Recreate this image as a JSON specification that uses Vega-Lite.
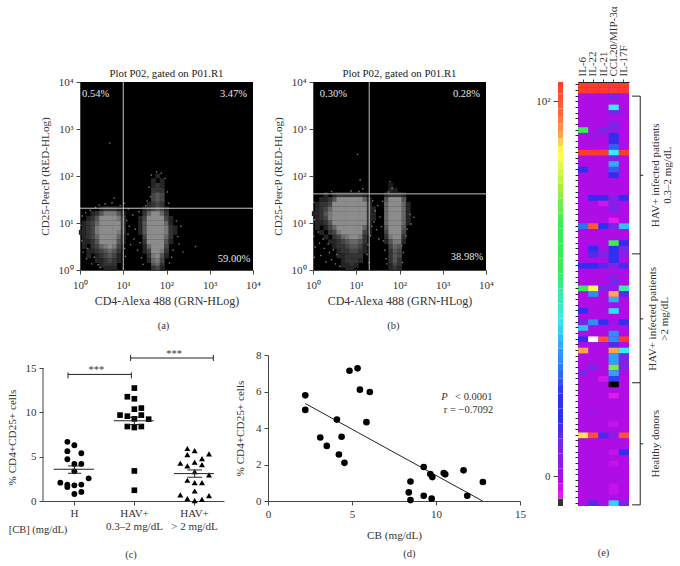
{
"$schema":"https://vega.github.io/schema/vega-lite/v6.json",
"padding":{"left":6,"top":6,"right":0,"bottom":0},
"background":"white",
"config":{"font":"Liberation Serif","view":{"stroke":null},"title":{"fontWeight":"normal","fontSize":10.8,"font":"Liberation Serif","color":"#222","offset":-3},
"axis":{"grid":false,"labelFont":"Liberation Serif","titleFont":"Liberation Serif","labelFontSize":11,"titleFontSize":11.2,"titleFontWeight":"normal","labelColor":"#333","titleColor":"#333","domainColor":"#444","tickColor":"#444","tickSize":4,"labelPadding":3,"labelOverlap":false},
"text":{"font":"Liberation Serif","fontSize":10.5,"color":"#333"}},
"datasets":{
"flowA":[
{"x":0.5,"y":1.3,"d":0.2},{"x":0.6,"y":1.3,"d":0.3},{"x":0.7,"y":1.3,"d":0.3},{"x":0.8,"y":1.3,"d":0.3},{"x":0.9,"y":1.3,"d":0.2},
{"x":0.3,"y":1.2,"d":0.2},{"x":0.4,"y":1.2,"d":0.3},{"x":0.5,"y":1.2,"d":0.5},{"x":0.6,"y":1.2,"d":0.7},{"x":0.7,"y":1.2,"d":0.7},{"x":0.8,"y":1.2,"d":0.7},{"x":0.9,"y":1.2,"d":0.5},{"x":1.0,"y":1.2,"d":0.2},
{"x":0.2,"y":1.1,"d":0.2},{"x":0.3,"y":1.1,"d":0.3},{"x":0.4,"y":1.1,"d":0.5},{"x":0.5,"y":1.1,"d":0.8},{"x":0.6,"y":1.1,"d":1},{"x":0.7,"y":1.1,"d":1},{"x":0.8,"y":1.1,"d":1},{"x":0.9,"y":1.1,"d":0.7},{"x":1.0,"y":1.1,"d":0.3},
{"x":0.1,"y":1.0,"d":0.2},{"x":0.2,"y":1.0,"d":0.3},{"x":0.3,"y":1.0,"d":0.4},{"x":0.4,"y":1.0,"d":0.6},{"x":0.5,"y":1.0,"d":1},{"x":0.6,"y":1.0,"d":1},{"x":0.7,"y":1.0,"d":1},{"x":0.8,"y":1.0,"d":1},{"x":0.9,"y":1.0,"d":0.8},{"x":1.0,"y":1.0,"d":0.3},
{"x":0.1,"y":0.9,"d":0.2},{"x":0.2,"y":0.9,"d":0.3},{"x":0.3,"y":0.9,"d":0.4},{"x":0.4,"y":0.9,"d":0.7},{"x":0.5,"y":0.9,"d":1},{"x":0.6,"y":0.9,"d":1},{"x":0.7,"y":0.9,"d":1},{"x":0.8,"y":0.9,"d":1},{"x":0.9,"y":0.9,"d":0.8},{"x":1.0,"y":0.9,"d":0.3},
{"x":0.03,"y":0.8,"d":0.2},{"x":0.1,"y":0.8,"d":0.2},{"x":0.2,"y":0.8,"d":0.3},{"x":0.3,"y":0.8,"d":0.4},{"x":0.4,"y":0.8,"d":0.7},{"x":0.5,"y":0.8,"d":1},{"x":0.6,"y":0.8,"d":1},{"x":0.7,"y":0.8,"d":1},{"x":0.8,"y":0.8,"d":1},{"x":0.9,"y":0.8,"d":0.7},{"x":1.0,"y":0.8,"d":0.3},
{"x":0.1,"y":0.7,"d":0.2},{"x":0.2,"y":0.7,"d":0.3},{"x":0.3,"y":0.7,"d":0.4},{"x":0.4,"y":0.7,"d":0.6},{"x":0.5,"y":0.7,"d":0.9},{"x":0.6,"y":0.7,"d":1},{"x":0.7,"y":0.7,"d":1},{"x":0.8,"y":0.7,"d":1},{"x":0.9,"y":0.7,"d":0.6},{"x":1.0,"y":0.7,"d":0.2},
{"x":0.1,"y":0.6,"d":0.2},{"x":0.2,"y":0.6,"d":0.2},{"x":0.3,"y":0.6,"d":0.3},{"x":0.4,"y":0.6,"d":0.5},{"x":0.5,"y":0.6,"d":0.8},{"x":0.6,"y":0.6,"d":0.9},{"x":0.7,"y":0.6,"d":1},{"x":0.8,"y":0.6,"d":0.9},{"x":0.9,"y":0.6,"d":0.5},{"x":1.0,"y":0.6,"d":0.2},
{"x":0.1,"y":0.5,"d":0.2},{"x":0.3,"y":0.5,"d":0.3},{"x":0.4,"y":0.5,"d":0.4},{"x":0.5,"y":0.5,"d":0.6},{"x":0.6,"y":0.5,"d":0.7},{"x":0.7,"y":0.5,"d":0.8},{"x":0.8,"y":0.5,"d":0.7},{"x":0.9,"y":0.5,"d":0.4},
{"x":0.2,"y":0.4,"d":0.2},{"x":0.3,"y":0.4,"d":0.2},{"x":0.4,"y":0.4,"d":0.3},{"x":0.5,"y":0.4,"d":0.4},{"x":0.6,"y":0.4,"d":0.5},{"x":0.7,"y":0.4,"d":0.6},{"x":0.8,"y":0.4,"d":0.5},{"x":0.9,"y":0.4,"d":0.3},
{"x":0.2,"y":0.3,"d":0.2},{"x":0.4,"y":0.3,"d":0.2},{"x":0.5,"y":0.3,"d":0.3},{"x":0.6,"y":0.3,"d":0.4},{"x":0.7,"y":0.3,"d":0.5},{"x":0.8,"y":0.3,"d":0.4},{"x":0.9,"y":0.3,"d":0.2},
{"x":0.4,"y":0.2,"d":0.2},{"x":0.5,"y":0.2,"d":0.2},{"x":0.6,"y":0.2,"d":0.3},{"x":0.7,"y":0.2,"d":0.4},{"x":0.8,"y":0.2,"d":0.3},{"x":0.9,"y":0.2,"d":0.2},
{"x":0.5,"y":0.1,"d":0.2},{"x":0.6,"y":0.1,"d":0.3},{"x":0.7,"y":0.1,"d":0.3},{"x":0.8,"y":0.1,"d":0.3},
{"x":0.6,"y":0.04,"d":0.2},{"x":0.7,"y":0.04,"d":0.2},{"x":0.8,"y":0.04,"d":0.2},
{"x":1.8,"y":2.0,"d":0.2},{"x":1.7,"y":1.9,"d":0.2},{"x":1.9,"y":1.9,"d":0.2},{"x":1.7,"y":1.8,"d":0.2},{"x":1.8,"y":1.8,"d":0.3},{"x":1.9,"y":1.8,"d":0.2},
{"x":1.7,"y":1.7,"d":0.3},{"x":1.8,"y":1.7,"d":0.3},{"x":1.9,"y":1.7,"d":0.3},{"x":1.7,"y":1.6,"d":0.4},{"x":1.8,"y":1.6,"d":0.5},{"x":1.9,"y":1.6,"d":0.4},
{"x":1.7,"y":1.5,"d":0.4},{"x":1.8,"y":1.5,"d":0.5},{"x":1.9,"y":1.5,"d":0.4},{"x":1.6,"y":1.4,"d":0.2},{"x":1.7,"y":1.4,"d":0.3},{"x":1.8,"y":1.4,"d":0.4},{"x":1.9,"y":1.4,"d":0.3},
{"x":1.5,"y":1.3,"d":0.2},{"x":1.6,"y":1.3,"d":0.3},{"x":1.7,"y":1.3,"d":0.4},{"x":1.8,"y":1.3,"d":0.5},{"x":1.9,"y":1.3,"d":0.4},{"x":2.0,"y":1.3,"d":0.2},
{"x":1.5,"y":1.2,"d":0.3},{"x":1.6,"y":1.2,"d":0.6},{"x":1.7,"y":1.2,"d":0.8},{"x":1.8,"y":1.2,"d":0.8},{"x":1.9,"y":1.2,"d":0.6},{"x":2.0,"y":1.2,"d":0.3},
{"x":1.4,"y":1.1,"d":0.2},{"x":1.5,"y":1.1,"d":0.4},{"x":1.6,"y":1.1,"d":0.8},{"x":1.7,"y":1.1,"d":1},{"x":1.8,"y":1.1,"d":1},{"x":1.9,"y":1.1,"d":0.9},{"x":2.0,"y":1.1,"d":0.4},{"x":2.1,"y":1.1,"d":0.2},
{"x":1.4,"y":1.0,"d":0.2},{"x":1.5,"y":1.0,"d":0.5},{"x":1.6,"y":1.0,"d":0.9},{"x":1.7,"y":1.0,"d":1},{"x":1.8,"y":1.0,"d":1},{"x":1.9,"y":1.0,"d":1},{"x":2.0,"y":1.0,"d":0.6},{"x":2.1,"y":1.0,"d":0.2},
{"x":1.4,"y":0.9,"d":0.2},{"x":1.5,"y":0.9,"d":0.5},{"x":1.6,"y":0.9,"d":1},{"x":1.7,"y":0.9,"d":1},{"x":1.8,"y":0.9,"d":1},{"x":1.9,"y":0.9,"d":1},{"x":2.0,"y":0.9,"d":0.7},{"x":2.1,"y":0.9,"d":0.3},{"x":2.2,"y":0.9,"d":0.2},
{"x":1.4,"y":0.8,"d":0.2},{"x":1.5,"y":0.8,"d":0.5},{"x":1.6,"y":0.8,"d":1},{"x":1.7,"y":0.8,"d":1},{"x":1.8,"y":0.8,"d":1},{"x":1.9,"y":0.8,"d":1},{"x":2.0,"y":0.8,"d":0.7},{"x":2.1,"y":0.8,"d":0.3},{"x":2.2,"y":0.8,"d":0.2},
{"x":1.5,"y":0.7,"d":0.4},{"x":1.6,"y":0.7,"d":0.9},{"x":1.7,"y":0.7,"d":1},{"x":1.8,"y":0.7,"d":1},{"x":1.9,"y":0.7,"d":1},{"x":2.0,"y":0.7,"d":0.6},{"x":2.1,"y":0.7,"d":0.3},
{"x":1.5,"y":0.6,"d":0.3},{"x":1.6,"y":0.6,"d":0.8},{"x":1.7,"y":0.6,"d":1},{"x":1.8,"y":0.6,"d":1},{"x":1.9,"y":0.6,"d":1},{"x":2.0,"y":0.6,"d":0.5},{"x":2.1,"y":0.6,"d":0.2},
{"x":1.5,"y":0.5,"d":0.2},{"x":1.6,"y":0.5,"d":0.6},{"x":1.7,"y":0.5,"d":0.9},{"x":1.8,"y":0.5,"d":1},{"x":1.9,"y":0.5,"d":0.9},{"x":2.0,"y":0.5,"d":0.4},
{"x":1.5,"y":0.4,"d":0.2},{"x":1.6,"y":0.4,"d":0.4},{"x":1.7,"y":0.4,"d":0.8},{"x":1.8,"y":0.4,"d":0.9},{"x":1.9,"y":0.4,"d":0.7},{"x":2.0,"y":0.4,"d":0.3},
{"x":1.6,"y":0.3,"d":0.3},{"x":1.7,"y":0.3,"d":0.7},{"x":1.8,"y":0.3,"d":0.8},{"x":1.9,"y":0.3,"d":0.5},{"x":2.0,"y":0.3,"d":0.2},
{"x":1.6,"y":0.2,"d":0.2},{"x":1.7,"y":0.2,"d":0.6},{"x":1.8,"y":0.2,"d":0.7},{"x":1.9,"y":0.2,"d":0.4},
{"x":1.7,"y":0.1,"d":0.5},{"x":1.8,"y":0.1,"d":0.6},{"x":1.9,"y":0.1,"d":0.3},{"x":1.7,"y":0.04,"d":0.3},{"x":1.8,"y":0.04,"d":0.4},{"x":1.9,"y":0.04,"d":0.2}
],
"flowB":[
{"x":0.3,"y":1.6,"d":0.2},{"x":0.5,"y":1.6,"d":0.2},{"x":0.6,"y":1.6,"d":0.3},{"x":0.7,"y":1.6,"d":0.3},{"x":0.8,"y":1.6,"d":0.3},{"x":0.9,"y":1.6,"d":0.3},{"x":1.0,"y":1.6,"d":0.3},{"x":1.1,"y":1.6,"d":0.3},{"x":1.2,"y":1.6,"d":0.2},
{"x":0.2,"y":1.5,"d":0.2},{"x":0.3,"y":1.5,"d":0.2},{"x":0.4,"y":1.5,"d":0.3},{"x":0.5,"y":1.5,"d":0.5},{"x":0.6,"y":1.5,"d":0.8},{"x":0.7,"y":1.5,"d":0.9},{"x":0.8,"y":1.5,"d":0.9},{"x":0.9,"y":1.5,"d":0.9},{"x":1.0,"y":1.5,"d":0.9},{"x":1.1,"y":1.5,"d":0.9},{"x":1.2,"y":1.5,"d":0.6},{"x":1.3,"y":1.5,"d":0.2},
{"x":0.1,"y":1.4,"d":0.2},{"x":0.2,"y":1.4,"d":0.3},{"x":0.3,"y":1.4,"d":0.3},{"x":0.4,"y":1.4,"d":0.4},{"x":0.5,"y":1.4,"d":0.8},{"x":0.6,"y":1.4,"d":1},{"x":0.7,"y":1.4,"d":1},{"x":0.8,"y":1.4,"d":1},{"x":0.9,"y":1.4,"d":1},{"x":1.0,"y":1.4,"d":1},{"x":1.1,"y":1.4,"d":1},{"x":1.2,"y":1.4,"d":0.8},{"x":1.3,"y":1.4,"d":0.3},
{"x":0.1,"y":1.3,"d":0.2},{"x":0.2,"y":1.3,"d":0.3},{"x":0.3,"y":1.3,"d":0.4},{"x":0.4,"y":1.3,"d":0.6},{"x":0.5,"y":1.3,"d":0.9},{"x":0.6,"y":1.3,"d":1},{"x":0.7,"y":1.3,"d":1},{"x":0.8,"y":1.3,"d":1},{"x":0.9,"y":1.3,"d":1},{"x":1.0,"y":1.3,"d":1},{"x":1.1,"y":1.3,"d":1},{"x":1.2,"y":1.3,"d":0.9},{"x":1.3,"y":1.3,"d":0.3},{"x":1.4,"y":1.3,"d":0.2},
{"x":0.03,"y":1.2,"d":0.2},{"x":0.1,"y":1.2,"d":0.2},{"x":0.2,"y":1.2,"d":0.3},{"x":0.3,"y":1.2,"d":0.5},{"x":0.4,"y":1.2,"d":0.7},{"x":0.5,"y":1.2,"d":1},{"x":0.6,"y":1.2,"d":1},{"x":0.7,"y":1.2,"d":1},{"x":0.8,"y":1.2,"d":1},{"x":0.9,"y":1.2,"d":1},{"x":1.0,"y":1.2,"d":1},{"x":1.1,"y":1.2,"d":1},{"x":1.2,"y":1.2,"d":0.9},{"x":1.3,"y":1.2,"d":0.3},{"x":1.4,"y":1.2,"d":0.2},
{"x":0.1,"y":1.1,"d":0.2},{"x":0.2,"y":1.1,"d":0.3},{"x":0.3,"y":1.1,"d":0.4},{"x":0.4,"y":1.1,"d":0.7},{"x":0.5,"y":1.1,"d":1},{"x":0.6,"y":1.1,"d":1},{"x":0.7,"y":1.1,"d":1},{"x":0.8,"y":1.1,"d":1},{"x":0.9,"y":1.1,"d":1},{"x":1.0,"y":1.1,"d":1},{"x":1.1,"y":1.1,"d":1},{"x":1.2,"y":1.1,"d":0.9},{"x":1.3,"y":1.1,"d":0.3},{"x":1.4,"y":1.1,"d":0.2},
{"x":0.1,"y":1.0,"d":0.2},{"x":0.2,"y":1.0,"d":0.2},{"x":0.3,"y":1.0,"d":0.3},{"x":0.4,"y":1.0,"d":0.5},{"x":0.5,"y":1.0,"d":0.9},{"x":0.6,"y":1.0,"d":1},{"x":0.7,"y":1.0,"d":1},{"x":0.8,"y":1.0,"d":1},{"x":0.9,"y":1.0,"d":1},{"x":1.0,"y":1.0,"d":1},{"x":1.1,"y":1.0,"d":1},{"x":1.2,"y":1.0,"d":0.8},{"x":1.3,"y":1.0,"d":0.3},
{"x":0.1,"y":0.9,"d":0.2},{"x":0.3,"y":0.9,"d":0.2},{"x":0.4,"y":0.9,"d":0.4},{"x":0.5,"y":0.9,"d":0.6},{"x":0.6,"y":0.9,"d":0.9},{"x":0.7,"y":0.9,"d":1},{"x":0.8,"y":0.9,"d":1},{"x":0.9,"y":0.9,"d":1},{"x":1.0,"y":0.9,"d":1},{"x":1.1,"y":0.9,"d":1},{"x":1.2,"y":0.9,"d":0.6},{"x":1.3,"y":0.9,"d":0.2},
{"x":0.2,"y":0.8,"d":0.2},{"x":0.4,"y":0.8,"d":0.3},{"x":0.5,"y":0.8,"d":0.4},{"x":0.6,"y":0.8,"d":0.7},{"x":0.7,"y":0.8,"d":0.9},{"x":0.8,"y":0.8,"d":1},{"x":0.9,"y":0.8,"d":1},{"x":1.0,"y":0.8,"d":1},{"x":1.1,"y":0.8,"d":0.9},{"x":1.2,"y":0.8,"d":0.4},{"x":1.3,"y":0.8,"d":0.2},
{"x":0.3,"y":0.7,"d":0.2},{"x":0.5,"y":0.7,"d":0.3},{"x":0.6,"y":0.7,"d":0.4},{"x":0.7,"y":0.7,"d":0.6},{"x":0.8,"y":0.7,"d":0.7},{"x":0.9,"y":0.7,"d":0.9},{"x":1.0,"y":0.7,"d":0.9},{"x":1.1,"y":0.7,"d":0.7},{"x":1.2,"y":0.7,"d":0.3},
{"x":0.4,"y":0.6,"d":0.2},{"x":0.5,"y":0.6,"d":0.2},{"x":0.6,"y":0.6,"d":0.3},{"x":0.7,"y":0.6,"d":0.4},{"x":0.8,"y":0.6,"d":0.5},{"x":0.9,"y":0.6,"d":0.6},{"x":1.0,"y":0.6,"d":0.6},{"x":1.1,"y":0.6,"d":0.5},{"x":1.2,"y":0.6,"d":0.3},
{"x":0.5,"y":0.5,"d":0.2},{"x":0.6,"y":0.5,"d":0.3},{"x":0.7,"y":0.5,"d":0.3},{"x":0.8,"y":0.5,"d":0.4},{"x":0.9,"y":0.5,"d":0.5},{"x":1.0,"y":0.5,"d":0.5},{"x":1.1,"y":0.5,"d":0.4},{"x":1.2,"y":0.5,"d":0.2},
{"x":0.6,"y":0.4,"d":0.2},{"x":0.7,"y":0.4,"d":0.3},{"x":0.8,"y":0.4,"d":0.3},{"x":0.9,"y":0.4,"d":0.4},{"x":1.0,"y":0.4,"d":0.4},{"x":1.1,"y":0.4,"d":0.3},{"x":1.2,"y":0.4,"d":0.2},
{"x":0.6,"y":0.3,"d":0.2},{"x":0.7,"y":0.3,"d":0.2},{"x":0.8,"y":0.3,"d":0.3},{"x":0.9,"y":0.3,"d":0.3},{"x":1.0,"y":0.3,"d":0.3},{"x":1.1,"y":0.3,"d":0.3},
{"x":0.7,"y":0.2,"d":0.2},{"x":0.8,"y":0.2,"d":0.3},{"x":0.9,"y":0.2,"d":0.3},{"x":1.0,"y":0.2,"d":0.3},{"x":1.1,"y":0.2,"d":0.2},
{"x":0.7,"y":0.1,"d":0.2},{"x":0.8,"y":0.1,"d":0.2},{"x":0.9,"y":0.1,"d":0.3},{"x":1.0,"y":0.1,"d":0.2},{"x":0.8,"y":0.04,"d":0.2},{"x":0.9,"y":0.04,"d":0.2},
{"x":1.8,"y":1.8,"d":0.15},{"x":1.8,"y":1.7,"d":0.2},{"x":1.9,"y":1.7,"d":0.15},
{"x":1.7,"y":1.6,"d":0.2},{"x":1.8,"y":1.6,"d":0.3},{"x":1.9,"y":1.6,"d":0.3},{"x":2.0,"y":1.6,"d":0.3},{"x":2.1,"y":1.6,"d":0.2},
{"x":1.7,"y":1.5,"d":0.5},{"x":1.8,"y":1.5,"d":0.9},{"x":1.9,"y":1.5,"d":1},{"x":2.0,"y":1.5,"d":0.9},{"x":2.1,"y":1.5,"d":0.5},
{"x":1.7,"y":1.4,"d":0.6},{"x":1.8,"y":1.4,"d":1},{"x":1.9,"y":1.4,"d":1},{"x":2.0,"y":1.4,"d":1},{"x":2.1,"y":1.4,"d":0.6},{"x":2.2,"y":1.4,"d":0.2},
{"x":1.7,"y":1.3,"d":0.6},{"x":1.8,"y":1.3,"d":1},{"x":1.9,"y":1.3,"d":1},{"x":2.0,"y":1.3,"d":1},{"x":2.1,"y":1.3,"d":0.6},{"x":2.2,"y":1.3,"d":0.2},
{"x":1.7,"y":1.2,"d":0.6},{"x":1.8,"y":1.2,"d":1},{"x":1.9,"y":1.2,"d":1},{"x":2.0,"y":1.2,"d":1},{"x":2.1,"y":1.2,"d":0.6},{"x":2.2,"y":1.2,"d":0.2},
{"x":1.7,"y":1.1,"d":0.6},{"x":1.8,"y":1.1,"d":1},{"x":1.9,"y":1.1,"d":1},{"x":2.0,"y":1.1,"d":1},{"x":2.1,"y":1.1,"d":0.6},{"x":2.2,"y":1.1,"d":0.2},
{"x":1.7,"y":1.0,"d":0.6},{"x":1.8,"y":1.0,"d":1},{"x":1.9,"y":1.0,"d":1},{"x":2.0,"y":1.0,"d":1},{"x":2.1,"y":1.0,"d":0.6},{"x":2.2,"y":1.0,"d":0.2},
{"x":1.7,"y":0.9,"d":0.5},{"x":1.8,"y":0.9,"d":1},{"x":1.9,"y":0.9,"d":1},{"x":2.0,"y":0.9,"d":1},{"x":2.1,"y":0.9,"d":0.5},
{"x":1.7,"y":0.8,"d":0.4},{"x":1.8,"y":0.8,"d":0.9},{"x":1.9,"y":0.8,"d":1},{"x":2.0,"y":0.8,"d":1},{"x":2.1,"y":0.8,"d":0.4},
{"x":1.7,"y":0.7,"d":0.3},{"x":1.8,"y":0.7,"d":0.7},{"x":1.9,"y":0.7,"d":0.9},{"x":2.0,"y":0.7,"d":0.9},{"x":2.1,"y":0.7,"d":0.3},
{"x":1.7,"y":0.6,"d":0.2},{"x":1.8,"y":0.6,"d":0.5},{"x":1.9,"y":0.6,"d":0.7},{"x":2.0,"y":0.6,"d":0.7},{"x":2.1,"y":0.6,"d":0.2},
{"x":1.8,"y":0.5,"d":0.4},{"x":1.9,"y":0.5,"d":0.6},{"x":2.0,"y":0.5,"d":0.5},{"x":1.8,"y":0.4,"d":0.3},{"x":1.9,"y":0.4,"d":0.5},{"x":2.0,"y":0.4,"d":0.4},
{"x":1.8,"y":0.3,"d":0.3},{"x":1.9,"y":0.3,"d":0.5},{"x":2.0,"y":0.3,"d":0.4},{"x":1.8,"y":0.2,"d":0.3},{"x":1.9,"y":0.2,"d":0.5},{"x":2.0,"y":0.2,"d":0.3},
{"x":1.8,"y":0.1,"d":0.2},{"x":1.9,"y":0.1,"d":0.4},{"x":2.0,"y":0.1,"d":0.3},{"x":1.8,"y":0.04,"d":0.2},{"x":1.9,"y":0.04,"d":0.3},{"x":2.0,"y":0.04,"d":0.2}
],
"speckA":[{"x":0.69,"y":2.7},{"x":0.79,"y":1.53},{"x":2.67,"y":0.5},{"x":0.05,"y":1.15},{"x":0.02,"y":0.95},{"x":0.04,"y":0.62},{"x":0.07,"y":0.38},{"x":0.13,"y":1.22},{"x":0.15,"y":0.24},{"x":0.18,"y":0.46},{"x":0.24,"y":1.27},{"x":0.27,"y":0.13},{"x":0.33,"y":0.27},{"x":0.36,"y":1.33},{"x":0.42,"y":0.11},{"x":0.47,"y":0.05},{"x":1.03,"y":0.46},{"x":1.05,"y":0.29},{"x":1.08,"y":1.05},{"x":1.11,"y":0.76},{"x":1.14,"y":0.93},{"x":1.17,"y":0.54},{"x":1.22,"y":1.17},{"x":1.25,"y":0.66},{"x":1.28,"y":0.87},{"x":1.33,"y":0.42},{"x":1.36,"y":1.24},{"x":1.39,"y":0.58},{"x":1.42,"y":0.26},{"x":1.46,"y":0.12},{"x":2.23,"y":1.04},{"x":2.26,"y":0.71},{"x":2.29,"y":0.55},{"x":2.33,"y":0.93},{"x":2.38,"y":0.38},{"x":2.15,"y":0.42},{"x":2.12,"y":0.27},{"x":2.07,"y":0.15},{"x":2.05,"y":1.42},{"x":2.02,"y":1.66},{"x":1.63,"y":1.56},{"x":1.6,"y":1.76},{"x":1.97,"y":1.95},{"x":1.65,"y":2.02},{"x":1.88,"y":2.06},{"x":1.77,"y":2.09},{"x":1.55,"y":1.47},{"x":1.52,"y":1.37},{"x":1.12,"y":1.3},{"x":1.02,"y":1.42},{"x":0.93,"y":1.37},{"x":0.44,"y":1.38},{"x":0.58,"y":1.41},{"x":0.74,"y":1.43}],
"speckB":[{"x":1.03,"y":2.46},{"x":1.09,"y":1.92},{"x":1.15,"y":1.73},{"x":1.06,"y":1.67},{"x":0.43,"y":1.67},{"x":0.88,"y":1.68},{"x":1.78,"y":1.88},{"x":1.83,"y":1.74},{"x":1.74,"y":1.66},{"x":0.02,"y":1.44},{"x":0.04,"y":1.07},{"x":0.02,"y":0.72},{"x":0.05,"y":0.49},{"x":0.03,"y":0.27},{"x":0.12,"y":0.81},{"x":0.15,"y":0.57},{"x":0.18,"y":0.31},{"x":0.23,"y":0.66},{"x":0.26,"y":0.46},{"x":0.3,"y":0.17},{"x":0.35,"y":0.55},{"x":0.38,"y":0.37},{"x":0.43,"y":0.22},{"x":0.47,"y":0.43},{"x":0.52,"y":0.13},{"x":0.55,"y":0.33},{"x":0.62,"y":0.08},{"x":1.25,"y":0.33},{"x":1.27,"y":0.54},{"x":1.3,"y":0.16},{"x":1.33,"y":0.73},{"x":1.36,"y":0.93},{"x":1.38,"y":1.47},{"x":1.41,"y":1.02},{"x":1.44,"y":1.26},{"x":1.47,"y":0.86},{"x":1.5,"y":1.37},{"x":1.52,"y":0.66},{"x":1.55,"y":1.13},{"x":1.58,"y":0.92},{"x":1.61,"y":1.46},{"x":1.63,"y":0.62},{"x":1.66,"y":0.42},{"x":1.69,"y":0.24},{"x":1.71,"y":0.13},{"x":2.15,"y":0.73},{"x":2.18,"y":0.87},{"x":2.24,"y":1.18},{"x":2.27,"y":0.98},{"x":2.33,"y":1.12},{"x":2.09,"y":0.37},{"x":2.07,"y":0.16},{"x":2.05,"y":0.52}],
"minor":[{"x":0.301},{"x":0.477},{"x":0.602},{"x":0.699},{"x":0.778},{"x":0.845},{"x":0.903},{"x":0.954},{"x":1.301},{"x":1.477},{"x":1.602},{"x":1.699},{"x":1.778},{"x":1.845},{"x":1.903},{"x":1.954},{"x":2.301},{"x":2.477},{"x":2.602},{"x":2.699},{"x":2.778},{"x":2.845},{"x":2.903},{"x":2.954},{"x":3.301},{"x":3.477},{"x":3.602},{"x":3.699},{"x":3.778},{"x":3.845},{"x":3.903},{"x":3.954}],
"groups":[
{"g":"H","x":0.889,"y":6.67},{"g":"H","x":1.006,"y":6.29},{"g":"H","x":0.889,"y":5.62},{"g":"H","x":1.122,"y":5.39},{"g":"H","x":0.889,"y":4.71},{"g":"H","x":1.006,"y":4.18},{"g":"H","x":1.122,"y":4.18},{"g":"H","x":1.006,"y":3.35},{"g":"H","x":1.244,"y":2.56},{"g":"H","x":0.772,"y":2.07},{"g":"H","x":0.889,"y":1.85},{"g":"H","x":0.889,"y":1.58},{"g":"H","x":1.006,"y":1.77},{"g":"H","x":1.122,"y":1.85},{"g":"H","x":1.122,"y":1.02},{"g":"H","x":1.006,"y":0.79},
{"g":"L","x":2.006,"y":12.74},{"g":"L","x":1.889,"y":11.76},{"g":"L","x":2.006,"y":11.53},{"g":"L","x":2.122,"y":10.48},{"g":"L","x":2.006,"y":10.36},{"g":"L","x":1.767,"y":9.69},{"g":"L","x":1.889,"y":9.57},{"g":"L","x":2.122,"y":9.69},{"g":"L","x":2.244,"y":9.23},{"g":"L","x":2.006,"y":9.27},{"g":"L","x":1.889,"y":8.4},{"g":"L","x":2.006,"y":8.29},{"g":"L","x":2.122,"y":8.4},{"g":"L","x":2.006,"y":3.39},{"g":"L","x":2.006,"y":1.21},
{"g":"M","x":2.889,"y":5.92},{"g":"M","x":3.011,"y":5.69},{"g":"M","x":2.889,"y":5.24},{"g":"M","x":3.25,"y":5.31},{"g":"M","x":3.133,"y":4.79},{"g":"M","x":2.772,"y":4.26},{"g":"M","x":2.889,"y":3.96},{"g":"M","x":3.011,"y":4.37},{"g":"M","x":3.133,"y":4.11},{"g":"M","x":3.011,"y":3.32},{"g":"M","x":3.25,"y":2.94},{"g":"M","x":2.889,"y":2.34},{"g":"M","x":3.011,"y":2.07},{"g":"M","x":3.133,"y":2.07},{"g":"M","x":3.011,"y":1.13},{"g":"M","x":2.772,"y":0.68},{"g":"M","x":2.889,"y":0.26},{"g":"M","x":3.25,"y":0.6},{"g":"M","x":3.011,"y":0.04},{"g":"M","x":3.133,"y":0.19}
],
"heat":[
{"c":"IL-6","r":0,"v":10},{"c":"IL-22","r":0,"v":10},{"c":"IL-21","r":0,"v":10},{"c":"CCL20/MIP-3α","r":0,"v":10},{"c":"IL-17F","r":0,"v":10},
{"c":"IL-6","r":1,"v":10},{"c":"IL-22","r":1,"v":10},{"c":"IL-21","r":1,"v":10},{"c":"CCL20/MIP-3α","r":1,"v":10},{"c":"IL-17F","r":1,"v":10},
{"c":"CCL20/MIP-3α","r":2,"v":2},{"c":"CCL20/MIP-3α","r":4,"v":5},{"c":"CCL20/MIP-3α","r":5,"v":2},{"c":"IL-17F","r":5,"v":1.3},{"c":"CCL20/MIP-3α","r":7,"v":2},
{"c":"IL-6","r":8,"v":6},{"c":"IL-21","r":8,"v":2},{"c":"CCL20/MIP-3α","r":8,"v":1.7},{"c":"IL-22","r":9,"v":1.4},{"c":"CCL20/MIP-3α","r":9,"v":3},{"c":"CCL20/MIP-3α","r":10,"v":3},{"c":"CCL20/MIP-3α","r":11,"v":3.5},
{"c":"IL-6","r":12,"v":10},{"c":"IL-22","r":12,"v":10},{"c":"IL-21","r":12,"v":10},{"c":"CCL20/MIP-3α","r":12,"v":5},{"c":"IL-17F","r":12,"v":10},
{"c":"CCL20/MIP-3α","r":13,"v":2},{"c":"CCL20/MIP-3α","r":14,"v":4.3},{"c":"IL-6","r":15,"v":3},{"c":"CCL20/MIP-3α","r":15,"v":3.5},{"c":"CCL20/MIP-3α","r":16,"v":3},
{"c":"IL-22","r":20,"v":3},{"c":"IL-21","r":20,"v":3},{"c":"CCL20/MIP-3α","r":20,"v":2},{"c":"IL-17F","r":20,"v":3},
{"c":"IL-21","r":21,"v":0.5},{"c":"CCL20/MIP-3α","r":21,"v":1.8},{"c":"CCL20/MIP-3α","r":22,"v":2},{"c":"CCL20/MIP-3α","r":24,"v":0.2},
{"c":"IL-6","r":25,"v":3.7},{"c":"IL-22","r":25,"v":9.7},{"c":"IL-21","r":25,"v":3},{"c":"CCL20/MIP-3α","r":25,"v":2},{"c":"IL-17F","r":25,"v":4.5},
{"c":"CCL20/MIP-3α","r":28,"v":6},{"c":"IL-17F","r":28,"v":3},{"c":"IL-22","r":29,"v":3},{"c":"CCL20/MIP-3α","r":29,"v":3},{"c":"IL-17F","r":29,"v":2},
{"c":"IL-22","r":30,"v":2.5},{"c":"IL-21","r":30,"v":2},{"c":"CCL20/MIP-3α","r":30,"v":3},{"c":"IL-17F","r":30,"v":1.7},{"c":"CCL20/MIP-3α","r":31,"v":3},
{"c":"IL-6","r":32,"v":3},{"c":"IL-22","r":32,"v":3},{"c":"IL-21","r":32,"v":2.5},{"c":"CCL20/MIP-3α","r":32,"v":2},{"c":"IL-17F","r":32,"v":2.7},
{"c":"CCL20/MIP-3α","r":34,"v":1.7},{"c":"CCL20/MIP-3α","r":35,"v":2},
{"c":"IL-6","r":36,"v":6},{"c":"IL-22","r":36,"v":8},{"c":"IL-21","r":36,"v":2},{"c":"CCL20/MIP-3α","r":36,"v":1.5},{"c":"IL-17F","r":36,"v":5.5},
{"c":"IL-22","r":37,"v":4},{"c":"CCL20/MIP-3α","r":37,"v":9},{"c":"IL-17F","r":37,"v":2.5},{"c":"CCL20/MIP-3α","r":38,"v":4.3},{"c":"CCL20/MIP-3α","r":39,"v":1.3},
{"c":"IL-6","r":40,"v":3},{"c":"CCL20/MIP-3α","r":40,"v":4.8},
{"c":"IL-6","r":42,"v":2},{"c":"IL-22","r":42,"v":4},{"c":"IL-21","r":42,"v":3},{"c":"CCL20/MIP-3α","r":42,"v":1.3},{"c":"IL-17F","r":42,"v":3},
{"c":"IL-6","r":43,"v":4.5},{"c":"CCL20/MIP-3α","r":44,"v":4},
{"c":"IL-6","r":45,"v":3},{"c":"IL-22","r":45,"v":11},{"c":"IL-21","r":45,"v":9.8},{"c":"CCL20/MIP-3α","r":45,"v":4},{"c":"IL-17F","r":45,"v":10},
{"c":"CCL20/MIP-3α","r":46,"v":2.5},{"c":"IL-6","r":47,"v":9},{"c":"CCL20/MIP-3α","r":47,"v":9},{"c":"IL-17F","r":47,"v":5},
{"c":"CCL20/MIP-3α","r":48,"v":4.2},{"c":"IL-17F","r":48,"v":2},{"c":"CCL20/MIP-3α","r":49,"v":4.2},{"c":"IL-17F","r":49,"v":2},
{"c":"IL-22","r":50,"v":2},{"c":"CCL20/MIP-3α","r":50,"v":6.5},{"c":"IL-17F","r":50,"v":2},
{"c":"IL-6","r":51,"v":2},{"c":"CCL20/MIP-3α","r":51,"v":4.2},{"c":"IL-21","r":52,"v":0.5},{"c":"CCL20/MIP-3α","r":52,"v":3.2},{"c":"CCL20/MIP-3α","r":53,"v":-1},
{"c":"CCL20/MIP-3α","r":55,"v":0.3},{"c":"IL-22","r":58,"v":1.3},{"c":"CCL20/MIP-3α","r":60,"v":0.7},
{"c":"IL-6","r":62,"v":8.3},{"c":"IL-22","r":62,"v":9.8},{"c":"IL-21","r":62,"v":2.7},{"c":"CCL20/MIP-3α","r":62,"v":1.7},{"c":"IL-17F","r":62,"v":9.8},
{"c":"CCL20/MIP-3α","r":65,"v":0.7},{"c":"IL-17F","r":65,"v":3},{"c":"CCL20/MIP-3α","r":67,"v":0.7},{"c":"CCL20/MIP-3α","r":71,"v":0.7},{"c":"CCL20/MIP-3α","r":72,"v":0.7},
{"c":"IL-22","r":74,"v":2.5},{"c":"CCL20/MIP-3α","r":74,"v":4.7},{"c":"IL-17F","r":74,"v":2}
],
"bar":[
{"b":-8,"t":-6,"v":-0.6},{"b":-6,"t":-4,"v":0.2},{"b":-4,"t":-2,"v":0.6},{"b":-2,"t":0,"v":1},{"b":0,"t":2,"v":1.3},{"b":2,"t":4,"v":1.5},{"b":4,"t":6,"v":1.7},{"b":6,"t":8,"v":1.9},{"b":8,"t":10,"v":2.1},{"b":10,"t":12,"v":2.4},{"b":12,"t":14,"v":2.7},{"b":14,"t":16,"v":3},{"b":16,"t":18,"v":3},{"b":18,"t":20,"v":3},{"b":20,"t":22,"v":3},{"b":22,"t":24,"v":3.1},{"b":24,"t":26,"v":3.4},{"b":26,"t":28,"v":3.6},{"b":28,"t":30,"v":3.8},{"b":30,"t":32,"v":4},{"b":32,"t":34,"v":4.1},{"b":34,"t":36,"v":4.3},{"b":36,"t":38,"v":4.5},{"b":38,"t":40,"v":4.7},{"b":40,"t":42,"v":4.9},{"b":42,"t":44,"v":5.1},{"b":44,"t":46,"v":5.3},{"b":46,"t":48,"v":5.4},{"b":48,"t":50,"v":5.5},{"b":50,"t":52,"v":5.7},{"b":52,"t":54,"v":5.8},{"b":54,"t":56,"v":6},{"b":56,"t":58,"v":6},{"b":58,"t":60,"v":6},{"b":60,"t":62,"v":6},{"b":62,"t":64,"v":6},{"b":64,"t":66,"v":6},{"b":66,"t":68,"v":6},{"b":68,"t":70,"v":6.2},{"b":70,"t":72,"v":6.4},{"b":72,"t":74,"v":6.5},{"b":74,"t":76,"v":6.8},{"b":76,"t":78,"v":7},{"b":78,"t":80,"v":7.3},{"b":80,"t":82,"v":7.5},{"b":82,"t":84,"v":7.7},{"b":84,"t":86,"v":8},{"b":86,"t":88,"v":8.1},{"b":88,"t":90,"v":8.5},{"b":90,"t":92,"v":9},{"b":92,"t":94,"v":9.2},{"b":94,"t":96,"v":9.4},{"b":96,"t":98,"v":9.6},{"b":98,"t":100,"v":9.7},{"b":100,"t":102,"v":9.8},{"b":102,"t":104,"v":9.9},{"b":104,"t":105.07,"v":10}
]
},
"resolve":{"scale":{"color":"independent"}},
"hconcat":[
{"resolve":{"scale":{"color":"independent"}},"vconcat":[
{"resolve":{"scale":{"color":"independent"}},"hconcat":[
{"width":1,"height":1,"data":{"values":[{"a":1}]},"mark":{"type":"rule","opacity":0},"encoding":{}},
{"resolve":{"scale":{"color":"independent"}},"hconcat":[
{"width":173,"height":188,"view":{"fill":"#000","stroke":null},"title":"Plot P02, gated on P01.R1",
"encoding":{"x":{"field":"x","type":"quantitative","scale":{"domain":[0,4]},"axis":{"title":"CD4-Alexa 488 (GRN-HLog)","titleFontSize":12,"titlePadding":5,"values":[0,1,2,3,4],"labelExpr":"datum.value==0?'10⁰':datum.value==1?'10¹':datum.value==2?'10²':datum.value==3?'10³':'10⁴'","labelFlush":false,"labelPadding":5}},
"y":{"field":"y","type":"quantitative","scale":{"domain":[0,4]},"axis":{"title":"CD25-PercP (RED-HLog)","titlePadding":8,"values":[0,1,2,3,4],"labelExpr":"datum.value==0?'10⁰':datum.value==1?'10¹':datum.value==2?'10²':datum.value==3?'10³':'10⁴'"}}},
"layer":[
{"data":{"name":"flowA"},"mark":{"type":"point","shape":"square","filled":true,"size":24,"opacity":1},
"encoding":{"color":{"field":"d","type":"quantitative","scale":{"domain":[0,0.8],"range":["#000000","#8c8c8c"],"clamp":true},"legend":null}}},
{"data":{"name":"speckA"},"mark":{"type":"point","shape":"square","filled":true,"size":2,"opacity":1,"color":"#7a7a7a"}},
{"data":{"name":"minor"},"mark":{"type":"rule","color":"#444"},"encoding":{"y":{"datum":0,"type":"quantitative"},"y2":{"datum":-0.045}}},
{"data":{"values":[{"x":1,"y":0,"x2":1,"y2":4},{"x":0,"y":1.314,"x2":4,"y2":1.314}]},"mark":{"type":"rule","color":"#c8c8c8","strokeWidth":1},
"encoding":{"x2":{"field":"x2"},"y2":{"field":"y2"}}},
{"data":{"values":[{"x":0.36,"y":3.75,"t":"0.54%"},{"x":3.55,"y":3.75,"t":"3.47%"},{"x":3.56,"y":0.23,"t":"59.00%"}]},"mark":{"type":"text","color":"#e6e6e6"},
"encoding":{"text":{"field":"t"}}},
{"data":{"values":[{"x":1.93,"y":-1.19,"t":"(a)"}]},"mark":{"type":"text"},
"encoding":{"text":{"field":"t"}}}
]},
{"width":173,"height":188,"view":{"fill":"#000","stroke":null},"title":"Plot P02, gated on P01.R1",
"encoding":{"x":{"field":"x","type":"quantitative","scale":{"domain":[0,4]},"axis":{"title":"CD4-Alexa 488 (GRN-HLog)","titleFontSize":12,"titlePadding":5,"values":[0,1,2,3,4],"labelExpr":"datum.value==0?'10⁰':datum.value==1?'10¹':datum.value==2?'10²':datum.value==3?'10³':'10⁴'","labelFlush":false,"labelPadding":5}},
"y":{"field":"y","type":"quantitative","scale":{"domain":[0,4]},"axis":{"title":"CD25-PercP (RED-HLog)","titlePadding":8,"values":[0,1,2,3,4],"labelExpr":"datum.value==0?'10⁰':datum.value==1?'10¹':datum.value==2?'10²':datum.value==3?'10³':'10⁴'"}}},
"layer":[
{"data":{"name":"flowB"},"mark":{"type":"point","shape":"square","filled":true,"size":24,"opacity":1},
"encoding":{"color":{"field":"d","type":"quantitative","scale":{"domain":[0,0.8],"range":["#000000","#8c8c8c"],"clamp":true},"legend":null}}},
{"data":{"name":"speckB"},"mark":{"type":"point","shape":"square","filled":true,"size":2,"opacity":1,"color":"#7a7a7a"}},
{"data":{"name":"minor"},"mark":{"type":"rule","color":"#444"},"encoding":{"y":{"datum":0,"type":"quantitative"},"y2":{"datum":-0.045}}},
{"data":{"values":[{"x":1.3,"y":0,"x2":1.3,"y2":4},{"x":0,"y":1.62,"x2":4,"y2":1.62}]},"mark":{"type":"rule","color":"#bdbdbd","strokeWidth":1},
"encoding":{"x2":{"field":"x2"},"y2":{"field":"y2"}}},
{"data":{"values":[{"x":0.47,"y":3.75,"t":"0.30%"},{"x":3.55,"y":3.75,"t":"0.28%"},{"x":3.56,"y":0.27,"t":"38.98%"}]},"mark":{"type":"text","color":"#e6e6e6"},
"encoding":{"text":{"field":"t"}}},
{"data":{"values":[{"x":1.86,"y":-1.19,"t":"(b)"}]},"mark":{"type":"text"},
"encoding":{"text":{"field":"t"}}}
]}
],"spacing":60,"bounds":"flush"}
],"spacing":36,"bounds":"flush"},
{"resolve":{"scale":{"color":"independent"}},"hconcat":[
{"width":181,"height":146,
"encoding":{"x":{"field":"x","type":"quantitative","scale":{"domain":[0.483,3.5]},"axis":{"title":null,"values":[1,2,3],"labelExpr":"datum.value==1?'H':datum.value==2?['HAV+','0.3–2 mg/dL']:['HAV+','> 2 mg/dL']","labelPadding":2}},
"y":{"field":"y","type":"quantitative","scale":{"domain":[0,16.47]},"axis":{"title":"% CD4+CD25+ cells","values":[0,5,10,15],"domain":false,"titlePadding":8,"titleY":82}}},
"layer":[
{"data":{"values":[{"x":0.483,"y":0,"x2":0.483,"y2":15}]},"mark":{"type":"rule","color":"#444"},"encoding":{"x2":{"field":"x2"},"y2":{"field":"y2"}}},
{"data":{"name":"groups"},"transform":[{"filter":"datum.g=='H'"}],"mark":{"type":"point","shape":"circle","filled":true,"size":34,"opacity":1,"color":"#000"}},
{"data":{"name":"groups"},"transform":[{"filter":"datum.g=='L'"}],"mark":{"type":"point","shape":"square","filled":true,"size":32,"opacity":1,"color":"#000"}},
{"data":{"name":"groups"},"transform":[{"filter":"datum.g=='M'"}],"mark":{"type":"point","shape":"triangle-up","filled":true,"size":36,"opacity":1,"color":"#000"}},
{"data":{"values":[
{"x":0.661,"x2":1.333,"y":3.58,"y2":3.58},{"x":0.9,"x2":1.122,"y":3.13,"y2":3.13},{"x":0.9,"x2":1.122,"y":3.96,"y2":3.96},{"x":1.006,"x2":1.006,"y":3.13,"y2":3.96},
{"x":1.661,"x2":2.328,"y":9.05,"y2":9.05},{"x":1.889,"x2":2.122,"y":8.63,"y2":8.63},{"x":1.889,"x2":2.122,"y":9.46,"y2":9.46},{"x":2.006,"x2":2.006,"y":8.63,"y2":9.46},
{"x":2.667,"x2":3.333,"y":3.09,"y2":3.09},{"x":2.889,"x2":3.133,"y":2.68,"y2":2.68},{"x":2.889,"x2":3.133,"y":3.5,"y2":3.5},{"x":3.011,"x2":3.011,"y":2.68,"y2":3.5},
{"x":0.9,"x2":1.956,"y":14.28,"y2":14.28},{"x":0.9,"x2":0.9,"y":13.83,"y2":14.5},{"x":1.956,"x2":1.956,"y":13.83,"y2":14.5},
{"x":1.944,"x2":3.322,"y":16.13,"y2":16.13},{"x":1.944,"x2":1.944,"y":15.8,"y2":16.47},{"x":3.322,"x2":3.322,"y":15.8,"y2":16.47}
]},"mark":{"type":"rule","color":"#222","strokeWidth":1},"encoding":{"x2":{"field":"x2"},"y2":{"field":"y2"}}},
{"data":{"values":[{"x":1.372,"y":14.75,"t":"***"},{"x":2.67,"y":16.6,"t":"***"},{"x":1.95,"y":-6.1,"t":"(c)"},{"x":0.4,"y":-3.27,"t":"[CB] (mg/dL)"}]},"mark":{"type":"text"},
"encoding":{"text":{"field":"t"}}}
]},
{"width":252,"height":146,
"encoding":{"x":{"field":"x","type":"quantitative","scale":{"domain":[0,15]},"axis":{"title":"CB (mg/dL)","values":[0,5,10,15],"titlePadding":10,"labelFlush":false}},
"y":{"field":"y","type":"quantitative","scale":{"domain":[0,8]},"axis":{"title":"% CD4+CD25+ cells","values":[0,2,4,6,8],"titlePadding":10}}},
"layer":[
{"data":{"values":[{"x":2.22,"y":5.34},{"x":12.77,"y":0}]},"mark":{"type":"line","color":"#222","strokeWidth":1}},
{"data":{"values":[{"x":2.22,"y":5.79},{"x":2.22,"y":4.99},{"x":4.85,"y":7.14},{"x":5.33,"y":7.27},{"x":5.47,"y":6.1},{"x":6.06,"y":5.97},{"x":4.1,"y":4.46},{"x":5.86,"y":4.32},{"x":3.11,"y":3.48},{"x":4.38,"y":3.52},{"x":3.5,"y":3.02},{"x":4.22,"y":2.55},{"x":4.55,"y":2.09},{"x":9.27,"y":1.86},{"x":11.64,"y":1.68},{"x":10.46,"y":1.53},{"x":10.55,"y":1.46},{"x":9.66,"y":1.48},{"x":9.78,"y":1.31},{"x":8.48,"y":1.07},{"x":12.79,"y":1.04},{"x":8.38,"y":0.47},{"x":9.27,"y":0.29},{"x":11.86,"y":0.29},{"x":9.74,"y":0.13},{"x":8.48,"y":0.05}]},
"mark":{"type":"point","shape":"circle","filled":true,"size":44,"opacity":1,"color":"#000"}},
{"data":{"values":[{"x":11.94,"y":4.97,"t":"r = −0.7092"},{"x":12.25,"y":5.7,"t":"< 0.0001"},{"x":8.41,"y":-2.91,"t":"(d)"}]},"mark":{"type":"text"},"encoding":{"text":{"field":"t"}}},
{"data":{"values":[{"x":10.5,"y":5.7,"t":"P"}]},"mark":{"type":"text","fontStyle":"italic"},"encoding":{"text":{"field":"t"}}}
]}
],"spacing":44,"bounds":"flush"}
],"spacing":273,"bounds":"flush"},
{"resolve":{"scale":{"color":"independent"}},"hconcat":[
{"width":5,"height":424,"data":{"name":"bar"},"mark":{"type":"rect"},
"encoding":{"y":{"field":"b","type":"quantitative","scale":{"domain":[-8,105.07]},"axis":{"title":null,"values":[0,100],"labelExpr":"datum.value==0?'0':'10²'","domain":false,"tickSize":5,"labelPadding":3}},"y2":{"field":"t"},
"color":{"field":"v","type":"quantitative","scale":{"domain":[-1,-0.01,0,1,2,3,4,5,6,7,8,9,10,11],"range":["#333333","#333333","#f020f0","#ae0de6","#7a25e8","#2f2ff0","#2a90f8","#33f0f0","#36ee55","#a8f03c","#ffff4d","#ffa64d","#ff3c28","#ffffff"],"interpolate":"rgb"},"legend":null}}},
{"width":51,"height":424,"view":{"fill":"#ae0de6","stroke":null},
"layer":[
{"data":{"name":"heat"},"mark":{"type":"rect"},
"encoding":{"x":{"field":"c","type":"nominal","scale":{"domain":["IL-6","IL-22","IL-21","CCL20/MIP-3α","IL-17F"],"paddingInner":0,"paddingOuter":0},"axis":{"orient":"top","title":null,"labelAngle":-90,"labelAlign":"left","labelBaseline":"middle","tickSize":3,"labelPadding":3,"domainColor":"#222"}},
"y":{"field":"r","type":"ordinal","scale":{"domain":[0,1,2,3,4,5,6,7,8,9,10,11,12,13,14,15,16,17,18,19,20,21,22,23,24,25,26,27,28,29,30,31,32,33,34,35,36,37,38,39,40,41,42,43,44,45,46,47,48,49,50,51,52,53,54,55,56,57,58,59,60,61,62,63,64,65,66,67,68,69,70,71,72,73,74],"paddingInner":0,"paddingOuter":0},"axis":{"title":null,"labels":false,"tickSize":3,"domain":false,"tickColor":"#222"}},
"color":{"field":"v","type":"quantitative","scale":{"domain":[-1,-0.01,0,1,2,3,4,5,6,7,8,9,10,11],"range":["#000000","#000000","#f020f0","#ae0de6","#7a25e8","#2f2ff0","#2a90f8","#33f0f0","#36ee55","#a8f03c","#ffff4d","#ffa64d","#ff3c28","#ffffff"],"interpolate":"rgb"},"legend":null}}},
{"data":{"values":[
{"x":6.1,"x2":6.1,"y":2.5,"y2":30.4},{"x":5.3,"x2":6.1,"y":2.5,"y2":2.5},{"x":5.3,"x2":6.1,"y":30.4,"y2":30.4},{"x":6.1,"x2":6.4,"y":16.5,"y2":16.5},
{"x":6.1,"x2":6.1,"y":30.4,"y2":53.2},{"x":5.3,"x2":6.1,"y":53.2,"y2":53.2},{"x":6.1,"x2":6.4,"y":41.9,"y2":41.9},
{"x":6.1,"x2":6.1,"y":53.2,"y2":74.8},{"x":5.3,"x2":6.1,"y":74.8,"y2":74.8},{"x":6.1,"x2":6.4,"y":64,"y2":64}
]},"mark":{"type":"rule","color":"#222","strokeWidth":1},
"encoding":{"x":{"field":"x","type":"quantitative","scale":{"domain":[0,5]},"axis":null},"y":{"field":"y","type":"quantitative","scale":{"domain":[75,0]},"axis":null},"x2":{"field":"x2"},"y2":{"field":"y2"}}},
{"data":{"values":[{"x":7.65,"y":16.5,"t":"HAV+ infected patients"},{"x":8.82,"y":16.5,"t":"0.3–2 mg/dL"},{"x":7.35,"y":41.9,"t":"HAV+ infected patients"},{"x":8.53,"y":41.9,"t":">2 mg/dL"},{"x":7.65,"y":64,"t":"Healthy donors"}]},"mark":{"type":"text","angle":270,"fontSize":11},
"encoding":{"x":{"field":"x","type":"quantitative","scale":{"domain":[0,5]},"axis":null},"y":{"field":"y","type":"quantitative","scale":{"domain":[75,0]},"axis":null},"text":{"field":"t"}}},
{"data":{"values":[{"x":2.5,"y":83.3,"t":"(e)"}]},"mark":{"type":"text"},
"encoding":{"x":{"field":"x","type":"quantitative","scale":{"domain":[0,5]},"axis":null},"y":{"field":"y","type":"quantitative","scale":{"domain":[75,0]},"axis":null},"text":{"field":"t"}}}
],"resolve":{"scale":{"x":"independent","y":"independent","color":"independent"}}}
],"spacing":15,"bounds":"flush"}
],"spacing":515,"bounds":"flush"
}
